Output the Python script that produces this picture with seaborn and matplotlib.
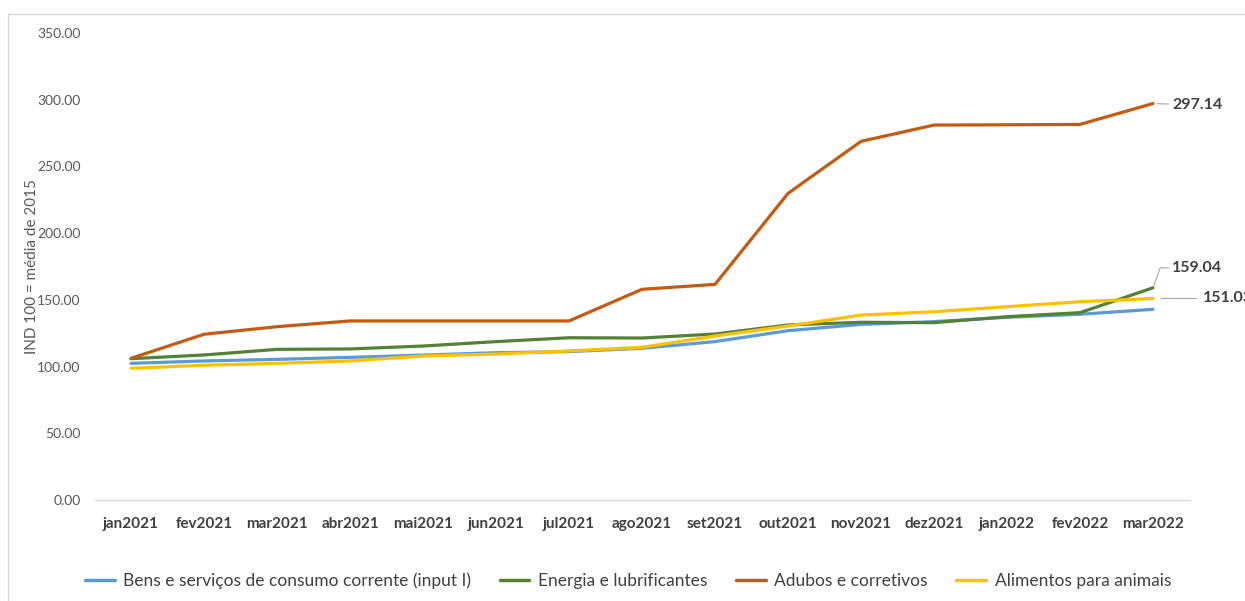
import matplotlib
matplotlib.use("Agg")
import matplotlib.pyplot as plt
import seaborn as sns
import pandas as pd
from matplotlib.lines import Line2D

months = ["jan2021", "fev2021", "mar2021", "abr2021", "mai2021", "jun2021", "jul2021",
          "ago2021", "set2021", "out2021", "nov2021", "dez2021", "jan2022", "fev2022", "mar2022"]

bens = [102.4, 104.2, 105.4, 106.9, 108.6, 110.4, 111.2, 113.7, 118.7, 126.9, 131.6, 133.7, 136.9, 139.2, 142.9]
energia = [105.9, 108.7, 112.9, 113.2, 115.4, 118.7, 121.6, 121.4, 124.4, 131.2, 133.2, 132.9, 137.4, 140.4, 159.04]
adubos = [106.2, 124.2, 129.9, 134.2, 134.2, 134.2, 134.2, 157.9, 161.6, 229.8, 268.8, 281.0, 281.2, 281.5, 297.14]
alimentos = [98.7, 101.0, 102.4, 104.2, 107.9, 109.4, 111.7, 114.4, 122.9, 130.4, 138.6, 141.1, 144.9, 148.6, 151.03]

series_names = ["Bens e serviços de consumo corrente (input I)", "Energia e lubrificantes",
                "Adubos e corretivos", "Alimentos para animais"]
series_values = [bens, energia, adubos, alimentos]
colors = ["#5B9BD5", "#548235", "#C55A11", "#FFC000"]

y_ticks = [0, 50, 100, 150, 200, 250, 300, 350]

rows = []
for name, vals in zip(series_names, series_values):
    for i, v in enumerate(vals):
        rows.append({"idx": i, "valor": v, "serie": name})
df = pd.DataFrame(rows)

sns.set_style("white")
plt.rcParams["font.family"] = ["Lato", "DejaVu Sans"]

fig = plt.figure(figsize=(12.45, 6.01), dpi=100)
ax = fig.add_axes([94.5 / 1245, 1 - 500 / 601, (1189.5 - 94.5) / 1245, (500 - 33) / 601])

sns.lineplot(data=df, x="idx", y="valor", hue="serie", palette=colors,
             hue_order=series_names, linewidth=2.3, ax=ax, legend=False)

ax.set_xlim(-0.5, len(months) - 0.5)
ax.set_ylim(0, 350)
ax.set_xticks(range(len(months)))
ax.set_xticklabels(months, fontsize=11, fontweight="bold", color="#404040")
ax.set_yticks(y_ticks)
ax.set_yticklabels([f"{t:.2f}" for t in y_ticks], fontsize=10, color="#595959")
ax.tick_params(axis="both", length=0)
ax.tick_params(axis="x", pad=12)
ax.tick_params(axis="y", pad=10)
ax.set_xlabel("")
ax.set_ylabel("IND 100 = média de 2015", fontsize=11, color="#595959")
ax.yaxis.set_label_coords(-0.051, 0.50)

for side in ["top", "right", "left"]:
    ax.spines[side].set_visible(False)
ax.spines["bottom"].set_color("#d9d9d9")
ax.spines["bottom"].set_linewidth(1.0)

# end-of-series value labels with leader lines
last = len(months) - 1
lab_kw = dict(fontsize=11.5, fontweight="bold", color="#404040", va="center", ha="left",
              annotation_clip=False)
ax.annotate(f"{adubos[-1]:.2f}", xy=(last, adubos[-1]), xytext=(last + 0.26, adubos[-1] - 1),
            arrowprops=dict(arrowstyle="-", color="#a6a6a6", lw=0.8, shrinkA=0, shrinkB=3),
            **lab_kw)
ax.annotate(f"{energia[-1]:.2f}", xy=(last, energia[-1]), xytext=(last + 0.26, 174),
            arrowprops=dict(arrowstyle="-", color="#a6a6a6", lw=0.8, shrinkA=0, shrinkB=2,
                            connectionstyle="angle,angleA=0,angleB=70,rad=0"),
            **lab_kw)
ax.annotate(f"{alimentos[-1]:.2f}", xy=(last, alimentos[-1]), xytext=(last + 0.68, alimentos[-1]),
            arrowprops=dict(arrowstyle="-", color="#a6a6a6", lw=0.8, shrinkA=2, shrinkB=6),
            **lab_kw)

handles = [Line2D([0], [0], color=c, lw=2.5) for c in colors]
fig.legend(handles, series_names, loc="center", bbox_to_anchor=(628 / 1245, 1 - 581 / 601),
           ncol=4, frameon=False, fontsize=12.5, handlelength=1.7, columnspacing=1.65,
           handletextpad=0.5, labelcolor="#404040")

# outer chart border
fig.add_artist(Line2D([8 / 1245, 8 / 1245], [0, 1 - 14 / 601], transform=fig.transFigure,
                      color="#d9d9d9", lw=1.0))
fig.add_artist(Line2D([8 / 1245, 1], [1 - 14 / 601, 1 - 14 / 601], transform=fig.transFigure,
                      color="#d9d9d9", lw=1.0))

fig.savefig("out.png", dpi=100)
